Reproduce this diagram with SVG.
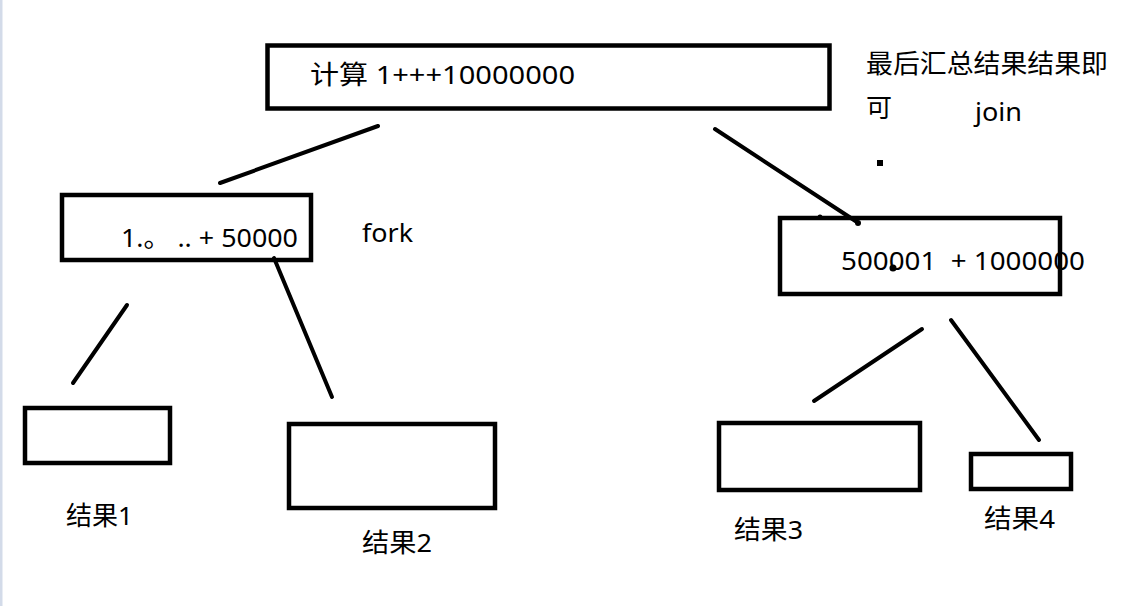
<svg xmlns="http://www.w3.org/2000/svg" width="1142" height="606" viewBox="0 0 1142 606">
<style>
.box{fill:none;stroke:#000;stroke-width:4.5}
.t{font-family:"Noto Sans","Noto Sans CJK SC",sans-serif;font-size:26px;fill:#000;white-space:pre}
.c{stroke:#000;stroke-width:4;stroke-linecap:round;fill:none}
</style>
<rect x="0" y="0" width="1142" height="606" fill="#fff"/>
<rect x="0" y="0" width="2.5" height="606" fill="#d3dbe9"/>
<g id="connectors">
<line class="c" x1="378" y1="126" x2="220" y2="183"/>
<line class="c" x1="715" y1="129" x2="857" y2="222"/>
<line class="c" x1="127" y1="305" x2="73" y2="383"/>
<line class="c" x1="274" y1="258" x2="332" y2="397"/>
<line class="c" x1="922" y1="329" x2="814" y2="401"/>
<line class="c" x1="951" y1="320" x2="1039" y2="440"/>
<circle cx="858" cy="223" r="3"/>
</g>
<g id="root">
<text class="t" x="310" y="84" textLength="265" lengthAdjust="spacingAndGlyphs">计算 1+++10000000</text>
<rect class="box" x="267.5" y="45.5" width="562" height="63" stroke-width="5"/>
</g>
<g id="left">
<text class="t" x="121" y="247" textLength="177" lengthAdjust="spacingAndGlyphs" xml:space="preserve">1.。 .. + 50000</text>
<rect class="box" x="62" y="195" width="249" height="65"/>
</g>
<g id="right">
<text class="t" x="841" y="270" textLength="244" lengthAdjust="spacingAndGlyphs" xml:space="preserve">500001  + 1000000</text>
<rect class="box" x="780" y="218" width="280" height="76"/>
<circle cx="820" cy="217" r="2.5"/>
<circle cx="893" cy="268" r="3.5"/>
</g>
<g id="r1">
<rect class="box" x="25" y="408" width="145" height="55"/>
<text class="t" x="66" y="525" textLength="67" lengthAdjust="spacingAndGlyphs">结果1</text>
</g>
<g id="r2">
<rect class="box" x="289" y="424" width="206" height="84"/>
<text class="t" x="362" y="552" textLength="70" lengthAdjust="spacingAndGlyphs">结果2</text>
</g>
<g id="r3">
<rect class="box" x="719" y="423" width="201" height="67"/>
<text class="t" x="734" y="539" textLength="69" lengthAdjust="spacingAndGlyphs">结果3</text>
</g>
<g id="r4">
<rect class="box" x="971" y="454" width="100" height="35"/>
<text class="t" x="984" y="528" textLength="71" lengthAdjust="spacingAndGlyphs">结果4</text>
</g>
<g id="notes">
<text class="t" x="362" y="242" textLength="51" lengthAdjust="spacingAndGlyphs">fork</text>
<text class="t" x="866" y="73" textLength="242" lengthAdjust="spacingAndGlyphs">最后汇总结果结果即</text>
<text class="t" x="866" y="117">可</text>
<text class="t" x="975" y="121" textLength="47" lengthAdjust="spacingAndGlyphs">join</text>
<rect x="877" y="160" width="6" height="6" fill="#000"/>
</g>
</svg>
